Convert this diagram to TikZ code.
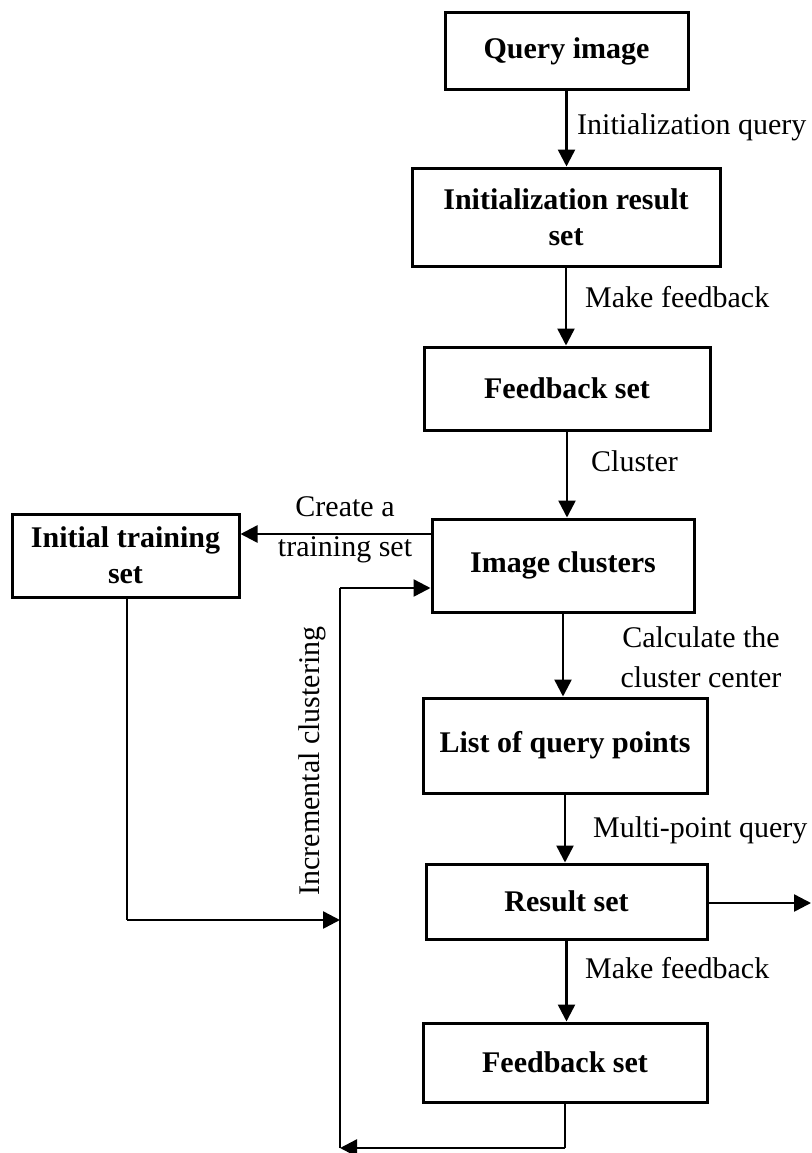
\documentclass[tikz,border=0pt]{standalone}
\usepackage{fontspec}
\setmainfont{Liberation Serif}
\usetikzlibrary{arrows.meta}
\begin{document}
\begin{tikzpicture}[x=1pt,y=-1pt,
  box/.style={draw,line width=3pt,inner sep=0pt,align=center,font=\fontsize{30}{36}\selectfont\bfseries},
  lab/.style={inner sep=0pt,font=\fontsize{30}{40}\selectfont},
  conn/.style={line width=2.5pt,-{Triangle[length=17pt,width=17pt]}},
  thin/.style={line width=1.3pt}]
\useasboundingbox (0,0) rectangle (811,1153);
% boxes
\node[box,minimum width=243pt,minimum height=77pt] (q) at (566.5,51.5) {Query image};
\node[box,minimum width=308pt,minimum height=98pt] (ir) at (566,217) {Initialization result\\set};
\node[box,minimum width=286pt,minimum height=83pt] (fb1) at (567,388.5) {Feedback set};
\node[box,minimum width=262pt,minimum height=93pt] (ic) at (563,565.5) {Image clusters};
\node[box,minimum width=227pt,minimum height=83pt] (it) at (125.5,555.5) {Initial training\\set};
\node[box,minimum width=284pt,minimum height=95pt] (lq) at (565,745.5) {List of query points};
\node[box,minimum width=281pt,minimum height=75pt] (rs) at (566.5,901.5) {Result set};
\node[box,minimum width=284pt,minimum height=79pt] (fb2) at (565,1062.5) {Feedback set};
% helper coordinates
\coordinate (ictop) at (340,588);
\coordinate (itcorner) at (127,920);
\coordinate (itend) at (340,920);
\coordinate (botL) at (340,1148);
\coordinate (botR) at (565,1148);
\coordinate (out) at (811,903);
% vertical connectors
\draw[conn] (q.south) -- (q.south |- ir.north);
\draw[conn] (ir.south) -- (ir.south |- fb1.north);
\draw[conn] (fb1.south) -- (ic.north -| fb1.south);
\draw[conn] (ic.south) -- (ic.south |- lq.north);
\draw[conn] (lq.south) -- (lq.south |- rs.north);
\draw[conn] (rs.south) -- (rs.south |- fb2.north);
% side connectors
\draw[conn] (ic.west |- 0,534) -- (it.east |- 0,534);
\draw[conn] (rs.east |- out) -- (out);
\draw[thin] (it.south -| itcorner) -- (itcorner);
\draw[conn] (itcorner) -- (itend);
\draw[thin] (botL) -- (ictop);
\draw[conn] (ictop) -- (ic.west |- ictop);
\draw[thin] (fb2.south) -- (botR);
\draw[conn] (botR) -- (botL);
% labels
\node[lab,anchor=west] (l1) at (577,127) {Initialization query};
\node[lab,anchor=west] (l2) at (585,297) {Make feedback};
\node[lab,anchor=west] (l3) at (591,461) {Cluster};
\node[lab,align=center] (l4) at (345,530) {Create a\\training set};
\node[lab,align=center] (l5) at (701,657) {Calculate the\\cluster center};
\node[lab,anchor=west] (l6) at (593,830) {Multi-point query};
\node[lab,anchor=west] (l7) at (585,968) {Make feedback};
\node[lab,rotate=90] (l8) at (312,761) {Incremental clustering};
\end{tikzpicture}
\end{document}
